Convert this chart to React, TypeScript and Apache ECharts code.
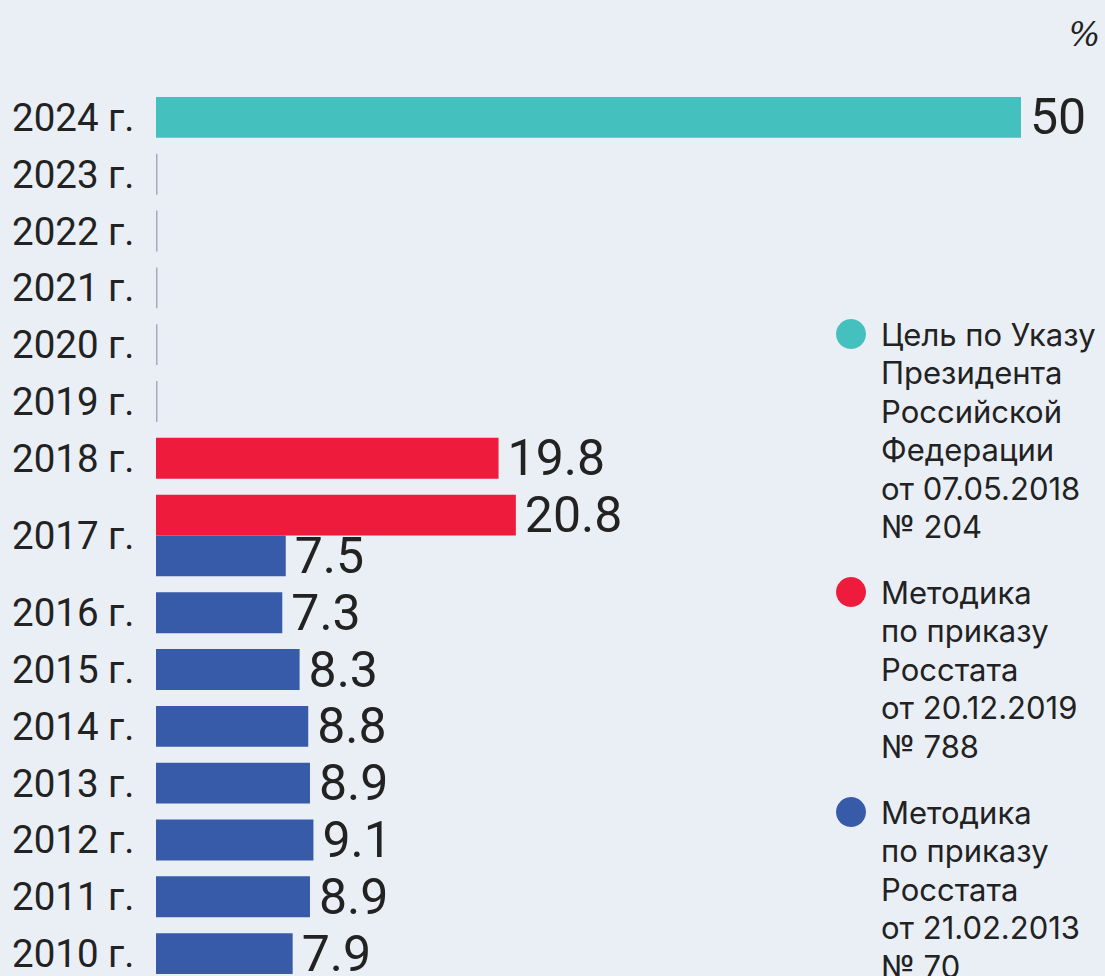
import React, { useEffect, useRef } from "react";
import * as echarts from "echarts";

// ---- Data ----
const years = [
  "2024 г.", "2023 г.", "2022 г.", "2021 г.", "2020 г.", "2019 г.", "2018 г.", "2017 г.",
  "2016 г.", "2015 г.", "2014 г.", "2013 г.", "2012 г.", "2011 г.", "2010 г.",
];
const goalDecree = [50, null, null, null, null, null, null, null, null, null, null, null, null, null, null];
const rosstat2019 = [null, null, null, null, null, null, 19.8, 20.8, null, null, null, null, null, null, null];
const rosstat2013 = [null, null, null, null, null, null, null, 7.5, 7.3, 8.3, 8.8, 8.9, 9.1, 8.9, 7.9];
const unitLabel = "%";
const legendTexts = [
  "Цель по Указу\nПрезидента\nРоссийской\nФедерации\nот 07.05.2018\n№ 204",
  "Методика\nпо приказу\nРосстата\nот 20.12.2019\n№ 788",
  "Методика\nпо приказу\nРосстата\nот 21.02.2013\n№ 70",
];

// ---- Styles ----
const COLORS = ["#44C0BE", "#EE1B3C", "#375BA9"];
const BG = "#EAEFF6";
const TXT = "#222222";
const FONT = "Roboto, 'Noto Sans', sans-serif";
const LEGEND_FONT = "Inter, Roboto, sans-serif";
const BAR = 41;
const GAP = 16;

const seriesValues = [goalDecree, rosstat2019, rosstat2013];

export default function App() {
  const ref = useRef<HTMLDivElement>(null);

  useEffect(() => {
    if (!ref.current) return;
    const chart = echarts.init(ref.current, null, { renderer: "svg" });

    // Row layout derived from how many bars each year has
    const rowCenters: number[] = [];
    const seriesData: any[][] = seriesValues.map(() => []);
    const emptyData: any[] = [];
    let cursor = 0;
    years.forEach((_, i) => {
      const present = seriesValues
        .map((vals, s) => ({ s, v: vals[i] }))
        .filter((o) => o.v !== null && o.v !== undefined);
      const n = Math.max(1, present.length);
      const h = n * BAR + GAP;
      rowCenters.push(cursor + h / 2);
      if (present.length === 0) {
        emptyData.push([0, cursor + GAP / 2, cursor + GAP / 2 + BAR]);
      }
      present.forEach((o, k) => {
        const y0 = cursor + GAP / 2 + k * BAR;
        seriesData[o.s].push([o.v, y0, y0 + BAR]);
      });
      cursor += h;
    });
    const total = cursor;

    const makeRender = (color: string) => (params: any, api: any) => {
      const v = api.value(0);
      const p0 = api.coord([0, api.value(1)]);
      const p1 = api.coord([v, api.value(2)]);
      return {
        type: "rect",
        shape: {
          x: p0[0],
          y: Math.min(p0[1], p1[1]),
          width: p1[0] - p0[0],
          height: Math.abs(p1[1] - p0[1]),
        },
        style: { fill: color },
        textContent: {
          style: { text: String(v), fontSize: 50, fill: TXT, fontFamily: FONT },
        },
        textConfig: { position: "right", distance: 9 },
      };
    };

    const seriesNames = ["Цель по Указу", "Методика Росстата 2019", "Методика Росстата 2013"];

    const legendGraphics: any[] = [];
    const legendTops = [315, 573, 793];
    legendTexts.forEach((t, i) => {
      legendGraphics.push({
        type: "circle",
        shape: { cx: 851, cy: legendTops[i] + 19, r: 15 },
        style: { fill: COLORS[i] },
      });
      legendGraphics.push({
        type: "text",
        x: 881,
        y: legendTops[i],
        style: {
          text: t,
          fontSize: 31,
          lineHeight: 38.5,
          fill: TXT,
          fontFamily: LEGEND_FONT,
          verticalAlign: "top",
        },
      });
    });

    chart.setOption({
      animation: false,
      backgroundColor: BG,
      title: {
        text: unitLabel,
        right: 0,
        top: 13,
        textStyle: { fontStyle: "italic", fontSize: 33, fontWeight: "normal", color: TXT, fontFamily: "'DejaVu Serif', serif" },
      },
      grid: { left: 156, right: 84, top: 97, height: 877 },
      xAxis: {
        type: "value",
        min: 0,
        max: 50,
        show: false,
        splitLine: { show: false },
      },
      yAxis: {
        type: "value",
        inverse: true,
        min: GAP / 2,
        max: total - GAP / 2,
        axisLine: { show: false },
        axisTick: { show: false },
        splitLine: { show: false },
        axisLabel: {
          customValues: rowCenters,
          align: "left",
          margin: 144,
          fontSize: 38.5,
          color: TXT,
          fontFamily: FONT,
          formatter: (val: number) => {
            const idx = rowCenters.findIndex((c) => Math.abs(c - val) < 0.01);
            return idx >= 0 ? years[idx] : "";
          },
        },
      },
      series: [
        ...seriesNames.map((name, s) => ({
          type: "custom",
          name,
          renderItem: makeRender(COLORS[s]),
          encode: { x: 0, y: 1 },
          data: seriesData[s],
        })),
        {
          type: "custom",
          name: "Нет данных",
          renderItem: (params: any, api: any) => {
            const p0 = api.coord([0, api.value(1)]);
            const p1 = api.coord([0, api.value(2)]);
            return {
              type: "line",
              shape: { x1: p0[0] + 0.75, y1: p0[1], x2: p1[0] + 0.75, y2: p1[1] },
              style: { stroke: "#A3ABBD", lineWidth: 1.5 },
            };
          },
          encode: { x: 0, y: 1 },
          data: emptyData,
        },
      ],
      graphic: legendGraphics,
    });

    return () => chart.dispose();
  }, []);

  return (
    <div
      ref={ref}
      style={{ position: "absolute", left: 0, top: 0, width: 1105, height: 976, background: BG }}
    />
  );
}
